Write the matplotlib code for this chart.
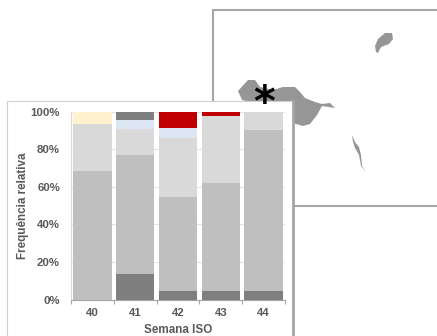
import numpy as np
import matplotlib
matplotlib.use("Agg")
import matplotlib.pyplot as plt
from matplotlib.patches import Polygon, Rectangle

plt.rcParams['font.family'] = ['Liberation Sans', 'DejaVu Sans']

weeks = ['40', '41', '42', '43', '44']
dark = [0, 13.5, 4.5, 4.3, 4.7]
mid = [68.5, 63.5, 50, 57.8, 85.8]
light = [25, 14, 31.7, 35.7, 9.5]
blue = [0, 4.5, 5, 0, 0]
yellow = [6.5, 0, 0, 0, 0]
top_dark = [0, 4.5, 0, 0, 0]
red = [0, 0, 8.8, 2.2, 0]

series = [dark, mid, light, blue, yellow, top_dark, red]
colors = ['#7f7f7f', '#bfbfbf', '#d9d9d9', '#dce6f2', '#fff2cc', '#7f7f7f', '#c00000']

# map outlines, in image pixels
main_island = [(238, 91), (248, 80), (255, 80), (260, 87), (273, 90), (283, 87), (295, 87),
               (300, 92), (305, 98), (315, 102), (322, 104), (330, 103), (335, 108), (322, 106),
               (317, 115), (310, 124), (303, 126), (293, 123), (285, 110), (242, 100)]
north_island = [(375, 46), (378, 39), (385, 33), (392, 33), (393, 39), (389, 44), (381, 47), (378, 53), (376, 52)]
sliver = [(352, 135), (355, 142), (359, 147), (361, 155), (362, 166), (366, 172), (361, 166), (359, 155), (355, 148), (353, 142)]

W, H = 437, 336
fig = plt.figure(figsize=(W / 100, H / 100), dpi=100)

bg = fig.add_axes([0, 0, 1, 1])
bg.set_xlim(0, W)
bg.set_ylim(H, 0)
bg.axis('off')
bg.add_patch(Rectangle((213, 10), 240, 196, fc='white', ec='#a6a6a6', lw=1.5))
for shape in [main_island, north_island, sliver]:
    bg.add_patch(Polygon(shape, closed=True, fc='#969696', ec='none'))
bg.text(264, 104, '*', fontsize=30, fontweight='bold', color='black', ha='center', va='center', family='DejaVu Sans')
bg.add_patch(Rectangle((7, 101), 286, 240, fc='white', ec='#d0d0d0', lw=0.8))
bg.plot([293, 293], [101, 336], color='#a6a6a6', lw=2)

ax = fig.add_axes([71 / W, 1 - 299.5 / H, 214 / W, 187.8 / H])
x = np.arange(len(weeks))
bottom = np.zeros(len(weeks))
for values, color in zip(series, colors):
    ax.bar(x, values, width=0.9, bottom=bottom, color=color, zorder=3)
    bottom += np.array(values)

ax.set_xlim(-0.5, 4.5)
ax.set_ylim(0, 100)
ax.set_yticks(range(0, 101, 20))
ax.set_yticklabels([f'{v}%' for v in range(0, 101, 20)])
ax.set_xticks(x)
ax.set_xticklabels(weeks)
ax.set_xticks(np.arange(-0.5, 5), minor=True)
ax.grid(axis='y', color='#e4e4e4', lw=0.8, zorder=0)
ax.tick_params(axis='x', which='major', length=0, pad=6)
ax.tick_params(axis='x', which='minor', length=3, color='#a6a6a6', width=0.8)
ax.tick_params(axis='y', length=0, pad=8)
for label in ax.get_xticklabels() + ax.get_yticklabels():
    label.set_fontsize(8.2)
    label.set_fontweight('bold')
    label.set_color('#595959')
for side in ['top', 'right']:
    ax.spines[side].set_visible(False)
ax.spines['left'].set_color('#d9d9d9')
ax.spines['bottom'].set_color('#a6a6a6')
ax.set_xlabel('Semana ISO', fontsize=8.4, fontweight='bold', color='#595959', labelpad=4.5)
ax.set_ylabel('Frequência relativa', fontsize=8.4, fontweight='bold', color='#595959', labelpad=1)

plt.savefig('out.png', dpi=100)
